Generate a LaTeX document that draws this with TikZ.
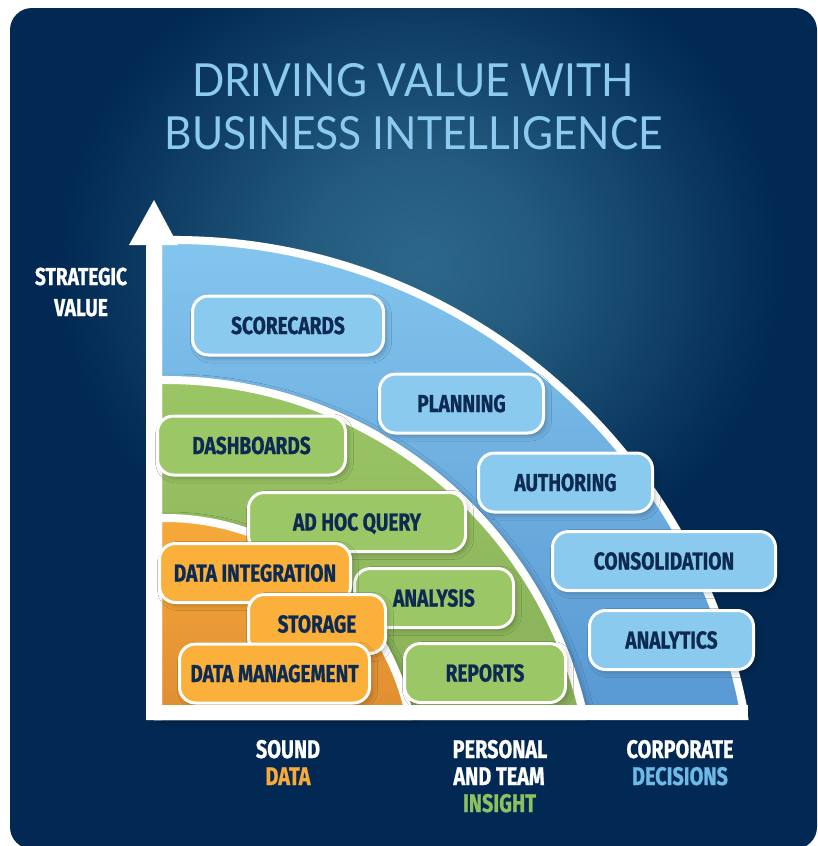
\documentclass[tikz,border=0pt]{standalone}
\usepackage{fontspec}
\usepackage{graphicx}
\usetikzlibrary{shadows.blur}
\newfontfamily\lblfont[FakeStretch=0.78, FakeBold=0.8]{Fira Sans}
\newfontfamily\ttlfont{Lato}
\definecolor{navybg}{HTML}{012953}
\definecolor{glowc}{HTML}{2C6789}
\definecolor{ttlc}{HTML}{8CCBEF}
\definecolor{txtc}{HTML}{0D2B52}
\definecolor{bluebox}{HTML}{8ACAEE}
\definecolor{bluetop}{HTML}{84C6EE}
\definecolor{bluebot}{HTML}{5898D3}
\definecolor{greenbox}{HTML}{9CC766}
\definecolor{greentop}{HTML}{9BC665}
\definecolor{greenbot}{HTML}{88B059}
\definecolor{orbox}{HTML}{FAB03B}
\definecolor{ortop}{HTML}{F6AA3B}
\definecolor{orbot}{HTML}{DF8D32}
\definecolor{datac}{HTML}{F7A93B}
\definecolor{insightc}{HTML}{8DC060}
\definecolor{decc}{HTML}{6DB9E8}
\pgfdeclareradialshading{bgglow}{\pgfpoint{0bp}{0bp}}{color(0bp)=(glowc); color(8bp)=(glowc!80!navybg); color(25bp)=(navybg); color(50bp)=(navybg)}
\tikzset{
  lbox/.style={draw=white, line width=3pt, rounded corners=16pt, inner sep=0pt,
    minimum height=59pt, text=txtc,
    font=\lblfont\bfseries\fontsize{24.5}{26}\selectfont, text height=17pt, text depth=0pt,
    blur shadow={shadow xshift=3pt, shadow yshift=-3pt, shadow blur radius=5pt, shadow opacity=25}},
  bluebx/.style={lbox, fill=bluebox},
  greenbx/.style={lbox, fill=greenbox},
  orbx/.style={lbox, fill=orbox},
  region/.style={draw=white, line width=8pt},
  shregion/.style={region,
    blur shadow={shadow xshift=4pt, shadow yshift=-2pt, shadow blur radius=8pt, shadow opacity=40}},
  axlbl/.style={anchor=base, inner sep=0pt, text=white,
    font=\lblfont\bfseries\fontsize{25.5}{27}\selectfont},
  sidelbl/.style={anchor=base, inner sep=0pt, text=white,
    font=\lblfont\bfseries\fontsize{24.5}{27}\selectfont},
  ttl/.style={anchor=base, inner sep=0pt, text=ttlc, font=\ttlfont}
}
\begin{document}
\begin{tikzpicture}[x=1pt,y=-1pt]
\useasboundingbox (0,0) rectangle (818,846);
% background
\begin{scope}
  \clip[rounded corners=22pt] (10,8) rectangle (817,849);
  \fill[navybg] (0,0) rectangle (818,846);
  \shade[shading=bgglow] (420,265) ellipse[x radius=360, y radius=330];
\end{scope}
% title
\node[ttl] (title1) at (413,96) {\resizebox{442pt}{33pt}{DRIVING VALUE WITH}};
\node[ttl] (title2) at (414,149) {\resizebox{498pt}{33pt}{BUSINESS INTELLIGENCE}};
% regions
\path[region, top color=bluetop, bottom color=bluebot]
  (158,716) -- (158,240.1) -- (162,240.1) arc[start angle=-91.2, end angle=-11.4, radius=580] -- (744,716) -- cycle;
\path[shregion, top color=greentop, bottom color=greenbot]
  (158,716) -- (158,380) -- (162,380) arc[start angle=-90.5, end angle=-13.9, radius=428] -- (582,716) -- cycle;
\path[shregion, top color=ortop, bottom color=orbot]
  (158,716) -- (158,518) -- (162,518) arc[start angle=-90.7, end angle=-14.6, radius=250] -- (408,716) -- cycle;
% vertical axis
\fill[white] (146,720) -- (146,245) -- (129,245) -- (154,200) -- (178,245) -- (162,245) -- (162,720) -- cycle;
% boxes
\node[bluebx, minimum width=191pt] (scorecards) at (288,325.5) {SCORECARDS};
\node[bluebx, minimum width=164pt] (planning) at (461.5,403.5) {PLANNING};
\node[bluebx, minimum width=174pt] (authoring) at (565.5,482.5) {AUTHORING};
\node[bluebx, minimum width=223pt] (consolidation) at (664,561) {CONSOLIDATION};
\node[bluebx, minimum width=164pt] (analytics) at (671.5,640) {ANALYTICS};
\node[greenbx, minimum width=188pt] (dashboards) at (251.5,445.5) {DASHBOARDS};
\node[greenbx, minimum width=217pt] (adhoc) at (357,522) {AD HOC QUERY};
\node[greenbx, minimum width=159pt] (analysis) at (434,598) {ANALYSIS};
\node[greenbx, minimum width=161pt] (reports) at (485,673) {REPORTS};
\node[orbx, minimum width=191pt] (dataint) at (255,573) {DATA INTEGRATION};
\node[orbx, minimum width=137pt] (storage) at (317,624) {STORAGE};
\node[orbx, minimum width=190pt] (datamgmt) at (274.5,673.5) {DATA MANAGEMENT};
% horizontal axis bar
\fill[white] (146,705) rectangle (748,720);
% axis labels
\node[sidelbl] (strat1) at (81,285) {STRATEGIC};
\node[sidelbl] (strat2) at (81,316) {VALUE};
\node[axlbl] (sound1) at (288,758) {SOUND};
\node[axlbl, text=datac] (sound2) at (288,785) {DATA};
\node[axlbl] (pers1) at (500,758) {PERSONAL};
\node[axlbl] (pers2) at (499,785) {AND TEAM};
\node[axlbl, text=insightc] (pers3) at (499.5,812) {INSIGHT};
\node[axlbl] (corp1) at (680,758) {CORPORATE};
\node[axlbl, text=decc] (corp2) at (680,785) {DECISIONS};
\end{tikzpicture}
\end{document}
